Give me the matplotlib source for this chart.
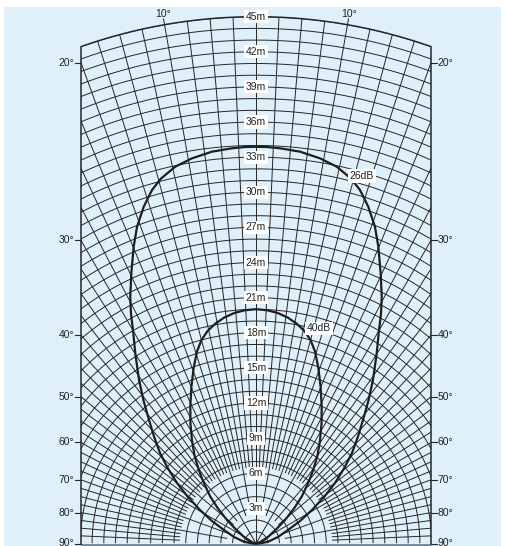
import numpy as np
import matplotlib
matplotlib.use("Agg")
import matplotlib.pyplot as plt
from matplotlib.collections import LineCollection
from matplotlib.patches import Polygon, Rectangle

plt.rcParams['font.family'] = ['Liberation Sans Narrow', 'Liberation Sans', 'DejaVu Sans']

# ---- data ----
ring_labels = [3, 6, 9, 12, 15, 18, 21, 24, 27, 30, 33, 36, 39, 42, 45]   # m
edge_angles = [20, 30, 40, 50, 60, 70, 80, 90]                            # deg, side labels
top_angles = [10]                                                         # deg, top labels

# contour lines, right half (cross distance x, axial distance y, in m); mirrored for the left half
db26_x = [0, 1.03, 2.05, 3.76, 5.47, 6.89, 8.11, 8.88, 9.59, 10.16, 10.45, 10.65, 10.74, 10.68,
          10.51, 10.29, 9.99, 9.61, 9.14, 8.71, 8.20, 7.52, 6.75, 5.81, 4.78, 3.76, 2.73, 1.88,
          1.03, 0.43, 0]
db26_y = [33.89, 33.86, 33.76, 33.47, 32.90, 32.19, 31.18, 30.20, 28.77, 27.06, 25.35, 23.08,
          21.08, 19.65, 18.24, 16.06, 13.97, 12.22, 10.55, 9.14, 7.73, 6.41, 5.17, 3.97, 2.86,
          1.92, 1.15, 0.56, 0.15, 0.03, 0]
db40_x = [0, 0.94, 1.88, 2.73, 3.50, 4.14, 4.66, 5.04, 5.32, 5.52, 5.61, 5.60, 5.47, 5.25, 4.89,
          4.44, 3.90, 3.25, 2.48, 1.75, 1.05, 0.47, 0.21, 0]
db40_y = [20.01, 19.93, 19.68, 19.29, 18.76, 18.15, 17.38, 16.40, 15.03, 13.41, 11.70, 10.25,
          8.84, 7.52, 6.28, 5.13, 4.00, 2.99, 2.01, 1.24, 0.58, 0.12, 0.03, 0]
db_names = ["26dB", "40dB"]
db_label_x = [9.05, 5.38]
db_label_y = [31.39, 18.38]

# ---- layout (pixels -> metres) ----
W, H = 505, 546
PX = 11.707            # pixels per metre
OX, OY = 256, 543.5    # origin in pixels
R_MAX = 45
HALF_W = 175 / PX

fig = plt.figure(figsize=(W / 100, H / 100), dpi=100)
ax = fig.add_axes([0, 0, 1, 1])
ax.set_xlim(-OX / PX, (W - OX) / PX)
ax.set_ylim((OY - H) / PX, OY / PX)
ax.set_aspect('auto')
ax.axis('off')

# light blue panel
ax.add_patch(Rectangle(((4 - OX) / PX, (OY - H) / PX), 497 / PX, 539 / PX,
                       facecolor='#e0f0fa', edgecolor='none', zorder=0))

# grid region: rectangle cut by the outer ring
t = np.linspace(np.arccos(-HALF_W / R_MAX), np.arccos(HALF_W / R_MAX), 200)
outline = np.vstack([[[-HALF_W, 0]], np.c_[R_MAX * np.cos(t), R_MAX * np.sin(t)], [[HALF_W, 0]]])
clip = Polygon(outline, closed=True, transform=ax.transData, facecolor='none', edgecolor='none')
ax.add_patch(clip)

grid_kw = dict(colors='#262626', linewidths=0.7, zorder=2)

# rings every metre
tt = np.linspace(0, np.pi, 721)
rings = [np.c_[r * np.cos(tt), r * np.sin(tt)] for r in range(1, R_MAX + 1)]
lc = LineCollection(rings, **grid_kw)
lc.set_clip_path(clip)
ax.add_collection(lc)

# spokes, getting denser further out
spokes = []
for a in np.arange(-90, 90.01, 2.5):
    if a % 30 == 0:
        r0 = 0
    elif a % 10 == 0:
        r0 = 2.5
    else:
        r0 = 6.5
    d = np.radians(a)
    spokes.append([(r0 * np.sin(d), r0 * np.cos(d)), (60 * np.sin(d), 60 * np.cos(d))])
lc = LineCollection(spokes, **grid_kw)
lc.set_clip_path(clip)
ax.add_collection(lc)

# outline of grid
ax.plot(outline[:, 0], outline[:, 1], color='#262626', lw=1.1, zorder=3)
ax.plot([-HALF_W, HALF_W], [-0.12, -0.12], color='#6f8596', lw=2.0, zorder=3, solid_capstyle='butt')

# contour curves
for xs, ys in [(db26_x, db26_y), (db40_x, db40_y)]:
    xs = np.asarray(xs)
    ys = np.asarray(ys)
    ax.plot(np.r_[-xs[::-1], xs[1:]], np.r_[ys[::-1], ys[1:]], color='#1e1e1e', lw=1.6,
            zorder=4, solid_joinstyle='round')

label_kw = dict(fontsize=7.5, color='#222222', ha='center', va='center', zorder=6,
                bbox=dict(boxstyle='square,pad=0.15', facecolor='white', edgecolor='none'))

# range labels
for r in ring_labels:
    ax.text(0, r, f"{r}m", **label_kw)

# dB labels
for name, x, y in zip(db_names, db_label_x, db_label_y):
    ax.text(x, y, name, **label_kw)

# side angle labels
tick = 6 / PX
for a in edge_angles:
    y = 0 if a == 90 else HALF_W / np.tan(np.radians(a))
    for s in (-1, 1):
        ax.plot([s * HALF_W, s * (HALF_W + tick)], [y, y], color='#262626', lw=0.8, zorder=3)
        ax.text(s * (HALF_W + tick + 0.05), y, f"{a}°", fontsize=7.5, color='#222222',
                ha='left' if s > 0 else 'right', va='center', zorder=6)

# top angle labels
for a in top_angles:
    for s in (-1, 1):
        d = np.radians(s * a)
        ax.plot([R_MAX * np.sin(d), (R_MAX + 0.5) * np.sin(d)],
                [R_MAX * np.cos(d), (R_MAX + 0.5) * np.cos(d)], color='#262626', lw=0.7, zorder=3)
        ax.text((R_MAX + 0.95) * np.sin(d), (R_MAX + 0.95) * np.cos(d), f"{a}°", fontsize=7.5,
                color='#222222', ha='center', va='center', zorder=6)

fig.savefig("out.png", dpi=100)
